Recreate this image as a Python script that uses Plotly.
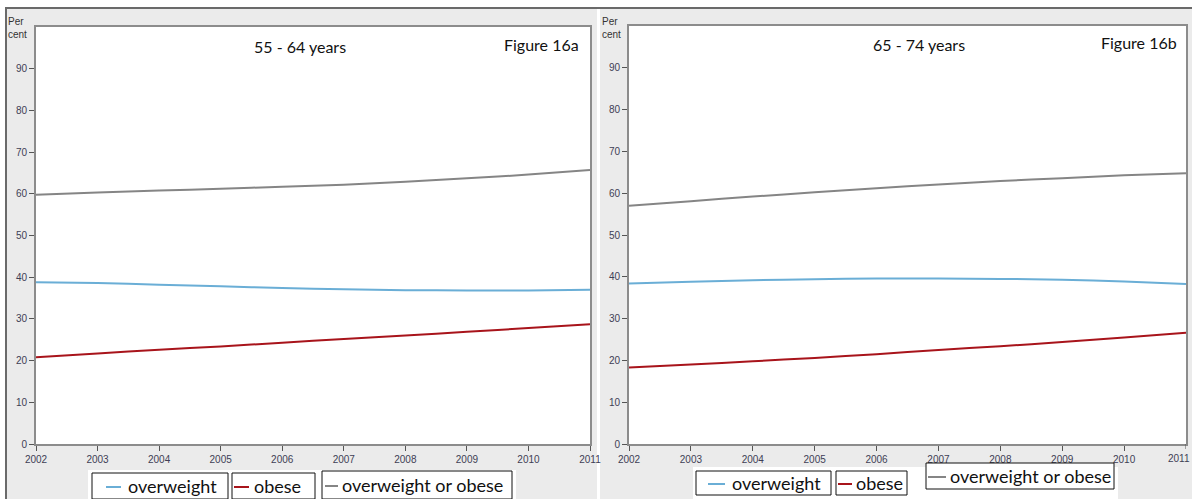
import plotly.graph_objects as go

W, H = 1192, 499

years = [2002, 2003, 2004, 2005, 2006, 2007, 2008, 2009, 2010, 2011]

# Figure 16a: 55 - 64 years
a_overweight = [38.8, 38.6, 38.2, 37.8, 37.4, 37.1, 36.9, 36.8, 36.8, 37.0]
a_obese = [20.8, 21.7, 22.6, 23.4, 24.3, 25.2, 26.0, 26.9, 27.8, 28.7]
a_either = [59.8, 60.3, 60.8, 61.2, 61.7, 62.2, 62.9, 63.7, 64.6, 65.7]

# Figure 16b: 65 - 74 years
b_overweight = [38.4, 38.8, 39.2, 39.4, 39.6, 39.6, 39.5, 39.3, 38.9, 38.3]
b_obese = [18.3, 19.0, 19.8, 20.6, 21.5, 22.5, 23.4, 24.4, 25.5, 26.6]
b_either = [57.0, 58.1, 59.2, 60.2, 61.2, 62.1, 62.9, 63.6, 64.3, 64.8]

series_names = ["overweight", "obese", "overweight or obese"]
series_colors = ["#6aaed6", "#a8141b", "#858585"]

panel_titles = ["55 - 64 years", "65 - 74 years"]
figure_labels = ["Figure 16a", "Figure 16b"]
y_ticks = [0, 10, 20, 30, 40, 50, 60, 70, 80, 90]


def px(x):
    return x / W


def py(y):
    return 1 - y / H


fig = go.Figure()

panels = [
    (a_overweight, a_obese, a_either, "x", "y"),
    (b_overweight, b_obese, b_either, "x2", "y2"),
]
for ov, ob, ei, xa, ya in panels:
    for name, vals, col in zip(series_names, [ov, ob, ei], series_colors):
        fig.add_trace(go.Scatter(
            x=years, y=vals, mode="lines", name=name,
            line=dict(color=col, width=2, shape="spline", smoothing=0.6),
            xaxis=xa, yaxis=ya, showlegend=False, hoverinfo="skip", cliponaxis=False))

tick_font = dict(family="Arial, Liberation Sans", size=10, color="#3e3e55")
axis_common = dict(
    showline=True, linecolor="#8c8c8c", linewidth=2, mirror=True,
    ticks="outside", ticklen=5, tickcolor="#555555", tickwidth=1,
    showgrid=False, zeroline=False, automargin=False,
    tickfont=tick_font,
)

fig.update_layout(
    width=W, height=H,
    margin=dict(l=0, r=0, t=0, b=0, autoexpand=False),
    paper_bgcolor="white",
    plot_bgcolor="rgba(0,0,0,0)",
    xaxis=dict(domain=[px(36), px(590)], range=[2002, 2011], tickvals=years,
               anchor="y", **axis_common),
    yaxis=dict(domain=[py(444), py(27)], range=[0, 100], tickvals=y_ticks,
               anchor="x", **axis_common),
    xaxis2=dict(domain=[px(629), px(1186)], range=[2002, 2011], tickvals=years[:-1],
                anchor="y2", **axis_common),
    yaxis2=dict(domain=[py(444), py(26)], range=[0, 100], tickvals=y_ticks,
                anchor="x2", **axis_common),
)

shapes = []
# gray panel backgrounds
shapes.append(dict(type="rect", xref="paper", yref="paper", layer="below",
                   x0=px(6), x1=px(597), y0=py(499), y1=py(8),
                   fillcolor="#ebebeb", line=dict(width=0)))
shapes.append(dict(type="rect", xref="paper", yref="paper", layer="below",
                   x0=px(600), x1=px(1192), y0=py(499), y1=py(8),
                   fillcolor="#ebebeb", line=dict(width=0)))
# white plot areas
shapes.append(dict(type="rect", xref="paper", yref="paper", layer="below",
                   x0=px(36), x1=px(590), y0=py(444), y1=py(27),
                   fillcolor="white", line=dict(width=0)))
shapes.append(dict(type="rect", xref="paper", yref="paper", layer="below",
                   x0=px(629), x1=px(1186), y0=py(444), y1=py(26),
                   fillcolor="white", line=dict(width=0)))
# frame lines
shapes.append(dict(type="line", xref="paper", yref="paper",
                   x0=px(5), x1=px(1192), y0=py(8), y1=py(8),
                   line=dict(color="#6a6a6a", width=2)))
shapes.append(dict(type="line", xref="paper", yref="paper",
                   x0=px(6), x1=px(6), y0=py(499), y1=py(8),
                   line=dict(color="#6a6a6a", width=2)))
# last tick mark of right panel (label drawn separately to stay inside the page)
shapes.append(dict(type="line", xref="x2", yref="paper",
                   x0=years[-1], x1=years[-1], y0=py(444), y1=py(449),
                   line=dict(color="#555555", width=1)))

annotations = []
# last x tick label of right panel, kept inside the page edge
annotations.append(dict(xref="paper", yref="paper", x=1.0, y=py(451),
                        xanchor="right", yanchor="top", showarrow=False,
                        text=str(years[-1]), font=tick_font))
# "Per cent" labels
for xl in [6, 600]:
    annotations.append(dict(xref="paper", yref="paper", x=px(xl), y=py(14),
                            xanchor="left", yanchor="top", showarrow=False,
                            text="Per<br>cent", align="left",
                            font=dict(family="Arial, Liberation Sans", size=10, color="#333333")))
# titles
for xc, yc, t in [(300, 47, panel_titles[0]), (919, 45, panel_titles[1])]:
    annotations.append(dict(xref="paper", yref="paper", x=px(xc), y=py(yc),
                            xanchor="center", yanchor="middle", showarrow=False, text=t,
                            font=dict(family="Lato, Open Sans", size=16, color="#111111")))
for xr, yc, t in [(581, 45, figure_labels[0]), (1179, 43, figure_labels[1])]:
    annotations.append(dict(xref="paper", yref="paper", x=px(xr), y=py(yc),
                            xanchor="right", yanchor="middle", showarrow=False, text=t,
                            font=dict(family="Lato, Open Sans", size=16, color="#111111")))

# custom legends: white backing, boxed items
legend_backs = [(88, 470, 516, 499), (693, 467, 1118, 499)]
for x0, y0, x1, y1 in legend_backs:
    shapes.append(dict(type="rect", xref="paper", yref="paper",
                       x0=px(x0), x1=px(x1), y0=py(y1), y1=py(y0),
                       fillcolor="white", line=dict(width=0)))

# (box x0, y0, x1, y1, sample x0, sample x1, text x)
legend_boxes = [
    [(92, 473, 228, 499, 106, 121, 126), (232, 473, 315, 499, 234, 249, 252),
     (322, 471, 512, 499, 325, 338, 340)],
    [(696, 471, 831, 495, 708, 725, 730), (836, 471, 907, 495, 838, 852, 854),
     (926, 463, 1114, 489, 928, 946, 948)],
]
for boxes in legend_boxes:
    for (x0, y0, x1, y1, l0, l1, tx), name, col in zip(boxes, series_names, series_colors):
        shapes.append(dict(type="rect", xref="paper", yref="paper",
                           x0=px(x0), x1=px(x1), y0=py(y1), y1=py(y0),
                           fillcolor="white", line=dict(color="#111111", width=1)))
        ym = (y0 + y1) / 2 + 1
        shapes.append(dict(type="line", xref="paper", yref="paper",
                           x0=px(l0), x1=px(l1), y0=py(ym), y1=py(ym),
                           line=dict(color=col, width=2)))
        annotations.append(dict(xref="paper", yref="paper", x=px(tx), y=py(ym - 1),
                                xanchor="left", yanchor="middle", showarrow=False, text=name,
                                font=dict(family="Lato, Open Sans", size=18, color="#111111")))

fig.update_layout(shapes=shapes, annotations=annotations)
fig.write_html("out.html", config={"displayModeBar": False},
               post_script="document.body.style.margin='0';document.body.style.overflow='hidden';")
